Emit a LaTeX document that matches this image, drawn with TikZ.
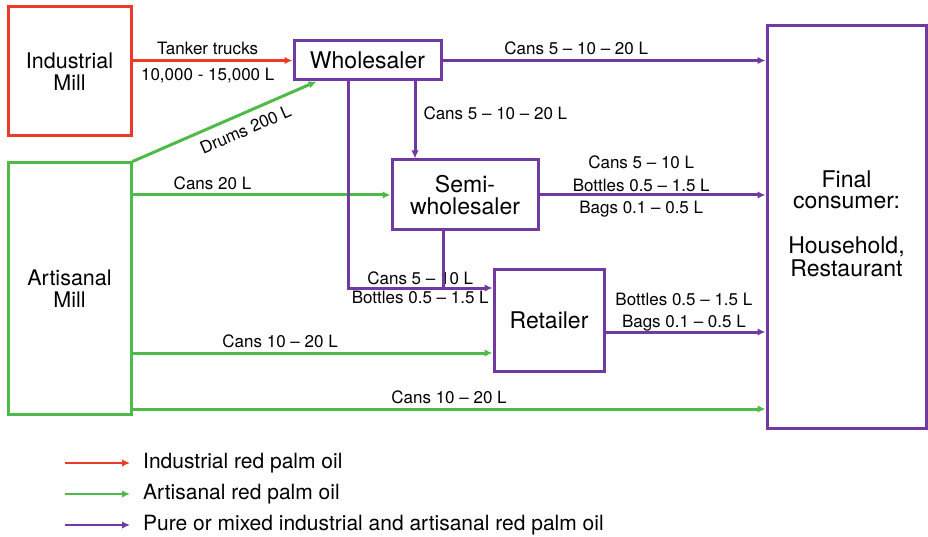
\documentclass[tikz,border=0pt]{standalone}
\usepackage{fontspec}
\setmainfont{TeX Gyre Heros}
\usetikzlibrary{arrows.meta,calc}

\definecolor{indred}{RGB}{236,58,38}
\definecolor{artgreen}{RGB}{78,186,72}
\definecolor{mixpurple}{RGB}{112,58,160}

\tikzset{
  flow/.style={line width=3pt, -{Latex[length=8pt,width=7.5pt]}},
  lbl/.style={font=\fontsize{17}{22.5}\selectfont, align=center, inner sep=4pt}
}

\begin{document}
\begin{tikzpicture}[x=1pt,y=-1pt]
        \useasboundingbox (0,0) rectangle (928,537);

        \begin{scope}[every node/.style={draw, line width=3pt, align=center, inner sep=0pt,
                                         font=\fontsize{23}{21.5}\selectfont}]
          \node[draw=indred, minimum width=123pt, minimum height=129pt, font=\fontsize{21.5}{21.5}\selectfont]
                (ind)   at (69.5,71.5)  {Industrial\\Mill};
          \node[draw=artgreen, minimum width=123pt, minimum height=251pt, font=\fontsize{21.5}{21.5}\selectfont]
                (art)   at (69.5,288.5) {Artisanal\\Mill};
          \node[draw=mixpurple, minimum width=147pt, minimum height=39pt]
                (whole) at (367.5,60.5) {Wholesaler};
          \node[draw=mixpurple, minimum width=146pt, minimum height=70pt]
                (semi)  at (465,195)    {Semi-\\wholesaler};
          \node[draw=mixpurple, minimum width=110pt, minimum height=102pt]
                (ret)   at (549,320)    {Retailer};
          \node[draw=mixpurple, minimum width=159pt, minimum height=402pt]
                (fin)   at (846.5,227)  {\raisebox{8pt}{\begin{tabular}{@{}c@{}}Final\\consumer:\\[21.5pt]Household,\\Restaurant\end{tabular}}};
        \end{scope}

        \coordinate (drum)  at ($(whole.south west)+(24,0)$);
        \coordinate (wdown) at ($(whole.south)+(-19.5,0)$);
        \coordinate (wsemi) at ($(whole.south)+(47.5,0)$);
        \coordinate (sdown) at ($(semi.south)+(-22,0)$);

        \begin{scope}[every node/.style={lbl}]
          % industrial flow
          \path[flow, draw=indred] (ind.east |- whole.west) -- (whole.west)
                node[above, pos=.47] {Tanker trucks}
                node[below, pos=.47, inner sep=6pt] {10,000 - 15,000 L};

          % artisanal flows
          \path[flow, draw=artgreen] (art.north east) -- (drum)
                node[pos=.58, rotate=23.5, anchor=north, inner sep=8pt] {Drums 200 L};
          \path[flow, draw=artgreen] (art.east |- semi.west) -- (semi.west)
                node[above, pos=.31] {Cans 20 L};
          \path[flow, draw=artgreen] (art.east |- 0,353) -- (ret.west |- 0,353)
                node[above, pos=.41] {Cans 10 -- 20 L};
          \path[flow, draw=artgreen] (art.east |- 0,409) -- (fin.west |- 0,409)
                node[above, pos=.5] {Cans 10 -- 20 L};

          % mixed flows
          \path[flow, draw=mixpurple] (whole.east) -- (whole.east -| fin.west)
                node[above, pos=.414] {Cans 5 -- 10 -- 20 L};
          \path[flow, draw=mixpurple] (wsemi) -- (wsemi |- semi.north)
                node[right, pos=.41, xshift=3pt] {Cans 5 -- 10 -- 20 L};
          \path[flow, draw=mixpurple] (wdown) |- (ret.west |- 0,288)
                node[above, pos=.75, inner sep=2pt] {Cans 5 -- 10 L}
                node[below, pos=.75, inner sep=2pt] {Bottles 0.5 -- 1.5 L};
          \draw[line width=3pt, mixpurple] (sdown) -- (sdown |- 0,288);
          \path[flow, draw=mixpurple] (semi.east) -- (semi.east -| fin.west)
                node[above, pos=.45, inner sep=2pt] {Cans 5 -- 10 L\\Bottles 0.5 -- 1.5 L}
                node[below, pos=.45, inner sep=5pt] {Bags 0.1 -- 0.5 L};
          \path[flow, draw=mixpurple] (ret.east |- 0,332) -- (fin.west |- 0,332)
                node[above, pos=.49, inner sep=2pt, yshift=-3pt] {Bottles 0.5 -- 1.5 L\\Bags 0.1 -- 0.5 L};
        \end{scope}

        % legend
        \begin{scope}[every node/.style={anchor=west, inner sep=0pt, font=\fontsize{21}{21}\selectfont}]
          \node (legind) at (143,463) {Industrial red palm oil};
          \node (legart) at (143,494) {Artisanal red palm oil};
          \node (legmix) at (143,525) {Pure or mixed industrial and artisanal red palm oil};
        \end{scope}
        \coordinate (kind) at (65,463);
        \coordinate (kart) at (65,494);
        \coordinate (kmix) at (65,525);
        \draw[flow, line width=2.6pt, indred]    (kind) -- ($(legind.west)+(-13,0)$);
        \draw[flow, line width=2.6pt, artgreen]  (kart) -- ($(legart.west)+(-13,0)$);
        \draw[flow, line width=2.6pt, mixpurple] (kmix) -- ($(legmix.west)+(-13,0)$);
\end{tikzpicture}
\end{document}
